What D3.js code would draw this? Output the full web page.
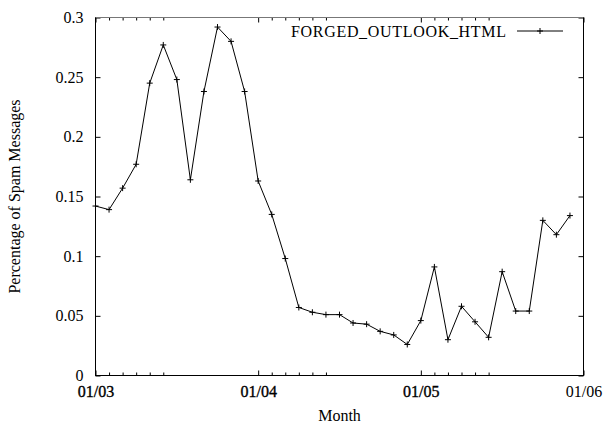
<!DOCTYPE html>
<html>
<head>
<meta charset="utf-8">
<script src="https://cdn.jsdelivr.net/npm/d3@7"></script>
<style>
  body { margin: 0; background: #fff; }
  svg text { font-family: "Liberation Serif", "Times New Roman", serif; font-size: 16px; fill: #000; }
</style>
</head>
<body>
<svg id="chart"></svg>
<script>
// monthly share of spam carrying FORGED_OUTLOOK_HTML, Jan 2003 .. Dec 2005
const seriesName = "FORGED_OUTLOOK_HTML";
const months = d3.range(36); // month index from 01/03
const values = [
  0.142, 0.139, 0.157, 0.177, 0.245, 0.277, 0.248, 0.164, 0.238, 0.292, 0.280, 0.238,
  0.163, 0.135, 0.098, 0.057, 0.053, 0.051, 0.051, 0.044, 0.043, 0.037, 0.034, 0.026,
  0.046, 0.091, 0.030, 0.058, 0.045, 0.032, 0.087, 0.054, 0.054, 0.130, 0.118, 0.134
];
const xTicks = [0, 12, 24, 36];
const xTickLabels = ["01/03", "01/04", "01/05", "01/06"];
const xMinorTicks = [1, 2, 3, 4, 5, 13, 14, 15, 16, 17, 25, 26, 27, 28, 29];
const yTicks = [0, 0.05, 0.1, 0.15, 0.2, 0.25, 0.3];
const yTickLabels = ["0", "0.05", "0.1", "0.15", "0.2", "0.25", "0.3"];

const W = 605, H = 424;
const plot = { left: 95.5, right: 583.5, top: 17.5, bottom: 375.5 };

const svg = d3.select("#chart").attr("width", W).attr("height", H);

const x = d3.scaleLinear().domain([0, 36]).range([plot.left, plot.right]);
const y = d3.scaleLinear().domain([0, 0.3]).range([plot.bottom, plot.top]);

// axes (gnuplot style: ticks point inward, mirrored)
const xAxis = svg.append("g")
  .attr("transform", `translate(0,${plot.bottom})`)
  .call(d3.axisBottom(x).tickValues(xTicks).tickSize(-5).tickPadding(10)
    .tickFormat((d, i) => xTickLabels[i]));
xAxis.selectAll("text").attr("stroke", (d, i) => i < 3 ? "#000" : "none").attr("stroke-width", 0.35);

svg.append("g")
  .attr("transform", `translate(0,${plot.bottom})`)
  .call(d3.axisBottom(x).tickValues(xMinorTicks).tickSize(-3).tickFormat(""));

svg.append("g")
  .attr("transform", `translate(0,${plot.top})`)
  .call(d3.axisTop(x).tickValues(xTicks).tickSize(-5).tickFormat(""));
svg.append("g")
  .attr("transform", `translate(0,${plot.top})`)
  .call(d3.axisTop(x).tickValues(xMinorTicks).tickSize(-3).tickFormat(""));

svg.append("g")
  .attr("transform", `translate(${plot.left},0)`)
  .call(d3.axisLeft(y).tickValues(yTicks).tickSize(-5).tickPadding(12)
    .tickFormat((d, i) => yTickLabels[i]));

svg.append("g")
  .attr("transform", `translate(${plot.right},0)`)
  .call(d3.axisRight(y).tickValues(yTicks).tickSize(-5).tickFormat(""));

svg.selectAll(".domain").remove();
svg.selectAll(".tick line").attr("stroke", "#000");
svg.selectAll("g").attr("font-family", null).attr("font-size", null);

// frame
svg.append("rect")
  .attr("x", plot.left).attr("y", plot.top)
  .attr("width", plot.right - plot.left).attr("height", plot.bottom - plot.top)
  .attr("fill", "none").attr("stroke", "#000");
svg.append("line")
  .attr("x1", plot.left).attr("x2", plot.right).attr("y1", plot.top).attr("y2", plot.top)
  .attr("stroke", "#777");

// series line
const line = d3.line().x((d, i) => x(months[i])).y(d => y(d));
svg.append("path")
  .datum(values)
  .attr("d", line)
  .attr("fill", "none")
  .attr("stroke", "#000")
  .attr("stroke-width", 1);

const plus = (cx, cy) => `M${cx - 3},${cy}H${cx + 3}M${cx},${cy - 3}V${cy + 3}`;
svg.append("path")
  .attr("d", values.map((d, i) => plus(x(months[i]), y(d))).join(""))
  .attr("stroke", "#000")
  .attr("fill", "none");

// legend
svg.append("text")
  .attr("x", 291).attr("y", 36.5)
  .attr("textLength", 215)
  .attr("lengthAdjust", "spacing")
  .text(seriesName);
svg.append("line")
  .attr("x1", 517).attr("x2", 563).attr("y1", 31).attr("y2", 31)
  .attr("stroke", "#000");
svg.append("path")
  .attr("d", plus(540, 31))
  .attr("stroke", "#000");

// axis titles
svg.append("text")
  .attr("transform", `translate(20,${(plot.top + plot.bottom) / 2}) rotate(-90)`)
  .attr("text-anchor", "middle")
  .text("Percentage of Spam Messages");
svg.append("text")
  .attr("x", (plot.left + plot.right) / 2).attr("y", 421)
  .attr("text-anchor", "middle")
  .text("Month");
</script>
</body>
</html>
